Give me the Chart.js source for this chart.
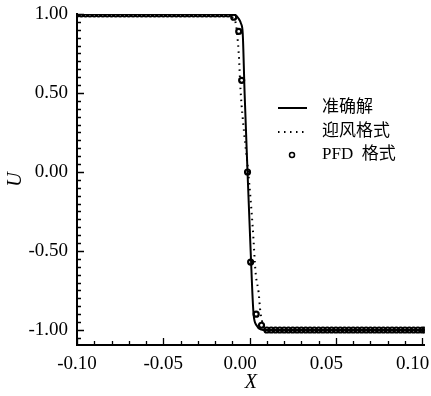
<!DOCTYPE html>
<html>
<head>
<meta charset="utf-8">
<script src="https://cdn.jsdelivr.net/npm/chart.js@4/dist/chart.umd.min.js"></script>
<style>
  html, body { margin: 0; padding: 0; background: #fff; }
  #wrap { width: 431px; height: 396px; }
</style>
</head>
<body>
<div id="wrap"><canvas id="chart"></canvas></div>
<script>
// exact solution
var exactX = [-0.1, -0.012, -0.0086, -0.0063, -0.005, -0.004, -0.0029, -0.0012, 0.0006, 0.0023, 0.004, 0.0063, 0.01, 0.1015];
var exactU = [1.0, 1.0, 0.995, 0.97, 0.94, 0.88, 0.5, 0.0, -0.5, -0.9, -0.97, -0.995, -1.0, -1.0];

// first order upwind scheme
var upwindX = [-0.1, -0.013, -0.01, -0.008, -0.0063, -0.0052, -0.0032, -0.0008, 0.0018, 0.0035, 0.0052, 0.0063, 0.008, 0.0105, 0.1015];
var upwindU = [1.0, 1.0, 0.98, 0.94, 0.75, 0.51, 0.25, 0.0, -0.35, -0.64, -0.76, -0.89, -0.97, -1.0, -1.0];

// PFD scheme, grid points
var pfdX = [
  -0.1, -0.0975, -0.095, -0.0925, -0.09, -0.0875, -0.085, -0.0825, -0.08, -0.0775,
  -0.075, -0.0725, -0.07, -0.0675, -0.065, -0.0625, -0.06, -0.0575, -0.055, -0.0525,
  -0.05, -0.0475, -0.045, -0.0425, -0.04, -0.0375, -0.035, -0.0325, -0.03, -0.0275,
  -0.025, -0.0225, -0.02, -0.0175, -0.015, -0.0125,
  -0.0092, -0.0063, -0.0046, -0.0012, 0.0006, 0.0038, 0.0069,
  0.01, 0.0125, 0.015, 0.0175, 0.02, 0.0225, 0.025, 0.0275, 0.03, 0.0325,
  0.035, 0.0375, 0.04, 0.0425, 0.045, 0.0475, 0.05, 0.0525, 0.055, 0.0575,
  0.06, 0.0625, 0.065, 0.0675, 0.07, 0.0725, 0.075, 0.0775, 0.08, 0.0825,
  0.085, 0.0875, 0.09, 0.0925, 0.095, 0.0975, 0.1, 0.1015
];
var pfdU = [
  1, 1, 1, 1, 1, 1, 1, 1, 1, 1,
  1, 1, 1, 1, 1, 1, 1, 1, 1, 1,
  1, 1, 1, 1, 1, 1, 1, 1, 1, 1,
  1, 1, 1, 1, 1, 1,
  0.98, 0.89, 0.58, 0.0, -0.57, -0.9, -0.97,
  -1, -1, -1, -1, -1, -1, -1, -1, -1, -1,
  -1, -1, -1, -1, -1, -1, -1, -1, -1, -1,
  -1, -1, -1, -1, -1, -1, -1, -1, -1, -1,
  -1, -1, -1, -1, -1, -1, -1, -1
];

var xTicks = [-0.10, -0.05, 0.00, 0.05, 0.10];
var yTicks = [-1.00, -0.50, 0.00, 0.50, 1.00];
var seriesNames = ['准确解', '迎风格式', 'PFD  格式'];

function toPoints(xs, ys) {
  return xs.map(function (x, i) { return { x: x, y: ys[i] }; });
}

var serif = '"Liberation Serif", "Times New Roman", serif';

// inward major/minor tick marks on the left and bottom axes
var innerTicks = {
  id: 'innerTicks',
  afterDatasetsDraw: function (chart) {
    var ctx = chart.ctx, xs = chart.scales.x, ys = chart.scales.y;
    var a = chart.chartArea;
    ctx.save();
    ctx.strokeStyle = '#000';
    ctx.lineWidth = 1.3;
    ctx.beginPath();
    for (var i = -10; i <= 10; i++) {
      var px = Math.round(xs.getPixelForValue(i * 0.01)) + 0.5;
      var len = (i % 5 === 0) ? 7 : 4;
      ctx.moveTo(px, a.bottom);
      ctx.lineTo(px, a.bottom - len);
    }
    for (var j = -21; j <= 20; j++) {
      var py = Math.round(ys.getPixelForValue(j * 0.05)) + 0.5;
      var l2 = (j % 10 === 0) ? 7 : 4;
      ctx.moveTo(a.left, py);
      ctx.lineTo(a.left + l2, py);
    }
    ctx.stroke();
    ctx.restore();
  }
};

// legend inside the plot, right side
var innerLegend = {
  id: 'innerLegend',
  afterDraw: function (chart) {
    var ctx = chart.ctx;
    var ds = chart.data.datasets;
    var rows = [108, 132, 155];
    ctx.save();
    ctx.fillStyle = '#000';
    ctx.strokeStyle = '#000';
    ctx.font = '17px "Liberation Serif", "Noto Sans CJK SC"';
    ctx.textBaseline = 'middle';
    ds.forEach(function (d, k) {
      var y = rows[k];
      ctx.beginPath();
      if (d.showLine === false) {
        ctx.lineWidth = 1.5;
        ctx.arc(292, y, 2.5, 0, Math.PI * 2);
        ctx.stroke();
      } else {
        ctx.lineWidth = d.borderWidth;
        ctx.setLineDash(d.borderDash || []);
        ctx.moveTo(278, y);
        ctx.lineTo(307, y);
        ctx.stroke();
        ctx.setLineDash([]);
      }
      ctx.fillText(d.label, 322, y);
    });
    ctx.restore();
  }
};

// non-negative labels sit a little left of their tick
function tickText(v) {
  return v < 0 ? v.toFixed(2) : v.toFixed(2) + '\u2003';
}

new Chart(document.getElementById('chart'), {
  type: 'scatter',
  data: {
    datasets: [
      {
        label: seriesNames[0],
        data: toPoints(exactX, exactU),
        showLine: true,
        borderColor: '#000',
        borderWidth: 2,
        pointRadius: 0,
        cubicInterpolationMode: 'monotone',
        order: 2
      },
      {
        label: seriesNames[1],
        data: toPoints(upwindX, upwindU),
        showLine: true,
        borderColor: '#000',
        borderWidth: 2,
        borderDash: [1.5, 4.5],
        pointRadius: 0,
        cubicInterpolationMode: 'monotone',
        order: 3
      },
      {
        label: seriesNames[2],
        data: toPoints(pfdX, pfdU),
        showLine: false,
        borderColor: '#000',
        backgroundColor: 'rgba(0,0,0,0)',
        borderWidth: 2.2,
        pointRadius: 2.5,
        order: 1
      }
    ]
  },
  options: {
    responsive: true,
    maintainAspectRatio: false,
    animation: false,
    events: [],
    layout: { padding: { top: 14, right: 4, left: 0, bottom: 0 } },
    plugins: { legend: { display: false }, tooltip: { enabled: false } },
    scales: {
      x: {
        type: 'linear',
        min: -0.1,
        max: 0.1015,
        afterBuildTicks: function (s) { s.ticks = xTicks.map(function (v) { return { value: v }; }); },
        afterFit: function (s) { s.height = 51; s.paddingLeft = 0; s.paddingRight = 0; },
        grid: { display: false, drawTicks: false },
        border: { display: true, color: '#000', width: 2 },
        ticks: {
          color: '#000',
          padding: 8,
          maxRotation: 0,
          autoSkip: false,
          font: { family: serif, size: 19 },
          callback: tickText
        },
        title: {
          display: true,
          text: 'X',
          color: '#000',
          font: { family: serif, size: 20, style: 'italic' },
          padding: { top: 0, bottom: 1 }
        }
      },
      y: {
        type: 'linear',
        min: -1.095,
        max: 1.0,
        afterBuildTicks: function (s) { s.ticks = yTicks.map(function (v) { return { value: v }; }); },
        afterFit: function (s) { s.width = 77; s.paddingTop = 0; },
        grid: { display: false, drawTicks: false },
        border: { display: true, color: '#000', width: 2 },
        ticks: {
          color: '#000',
          padding: 9,
          autoSkip: false,
          font: { family: serif, size: 19 },
          callback: function (v) { return v.toFixed(2); }
        },
        title: {
          display: true,
          text: 'U',
          color: '#000',
          font: { family: serif, size: 20, style: 'italic' },
          padding: { top: 4, bottom: 0 }
        }
      }
    }
  },
  plugins: [innerTicks, innerLegend]
});
</script>
</body>
</html>
